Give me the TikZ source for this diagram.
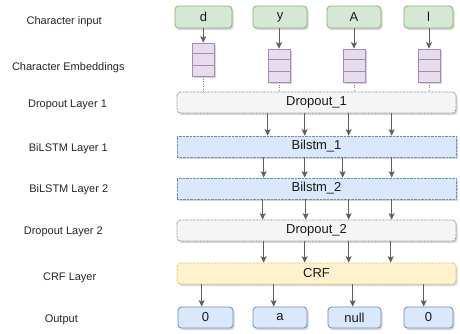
\documentclass[tikz,border=0pt]{standalone}
\usepackage{fontspec}
\setmainfont{Liberation Sans}
\usetikzlibrary{arrows.meta,shadows}
\definecolor{gfill}{HTML}{D5E8D4}\definecolor{gline}{HTML}{82B366}
\definecolor{pfill}{HTML}{E6DCEC}\definecolor{pline}{HTML}{A68BBA}
\definecolor{bfill}{HTML}{DAE8FC}\definecolor{bline}{HTML}{6C8EBF}
\definecolor{yfill}{HTML}{FFF2CC}\definecolor{yline}{HTML}{D6B656}
\definecolor{wfill}{HTML}{F5F5F5}\definecolor{wline}{HTML}{808080}
\definecolor{arrc}{HTML}{606060}
\tikzset{
  shad/.style={drop shadow={shadow xshift=1.5pt,shadow yshift=-2pt,opacity=0.16,fill=black}},
  lbl/.style={inner sep=0pt,font=\fontsize{11}{13}\selectfont,text=black!85},
  boxtxt/.style={font=\fontsize{13}{15}\selectfont,inner sep=0pt,text=black!90},
  inbox/.style={boxtxt,draw=gline,fill=gfill,rounded corners=3.5pt,line width=0.8pt,minimum height=22pt,shad},
  outbox/.style={boxtxt,draw=bline,fill=bfill,rounded corners=3.5pt,line width=0.8pt,minimum height=21pt,shad},
  embbox/.style={draw=pline,fill=pfill,line width=0.7pt,minimum width=22pt,minimum height=33pt,inner sep=0pt,shad},
  embline/.style={draw=pline,line width=0.7pt},
  layer/.style={boxtxt,minimum width=279pt,minimum height=21pt,line width=0.7pt,dash pattern=on 0.7pt off 0.7pt,shad},
  droplayer/.style={layer,draw=wline,fill=wfill,rounded corners=3.5pt},
  lstmlayer/.style={layer,draw=bline,fill=bfill},
  crflayer/.style={layer,draw=yline,fill=yfill,rounded corners=3.5pt},
  arr/.style={draw=arrc,line width=0.8pt,-{Stealth[length=6.5pt,width=6pt,inset=1.5pt]},fill=arrc},
  dotline/.style={draw=arrc!80,line width=0.8pt,dash pattern=on 1pt off 1.5pt}
}
\begin{document}
\begin{tikzpicture}[x=1pt,y=-1pt]
\useasboundingbox (0,0) rectangle (460,333);
% left labels
\node[lbl] (l1) at (64.2,22) {Character input};
\node[lbl] (l2) at (68.3,67.5) {Character Embeddings};
\node[lbl] (l3) at (67.5,104.5) {Dropout Layer 1};
\node[lbl] (l4) at (68.3,148.5) {BiLSTM Layer 1};
\node[lbl] (l5) at (68.7,190) {BiLSTM Layer 2};
\node[lbl] (l6) at (63.3,232) {Dropout Layer 2};
\node[lbl] (l7) at (69.7,277.5) {CRF Layer};
\node[lbl] (l8) at (61.3,319.5) {Output};
% input boxes
\node[inbox,minimum width=57pt] (i1) at (203.5,17) {d};
\node[inbox,minimum width=54pt] (i2) at (280,17) {y};
\node[inbox,minimum width=54pt] (i3) at (354,17) {A};
\node[inbox,minimum width=49pt] (i4) at (428.5,17) {l};
% embeddings
\node[embbox] (e1) at (203.25,59.5) {};
\node[embbox] (e2) at (279,65.5) {};
\node[embbox] (e3) at (354,65.5) {};
\node[embbox] (e4) at (429,65.5) {};
\foreach \e in {e1,e2,e3,e4}{
  \draw[embline] ([yshift=-11pt]\e.north west) -- ([yshift=-11pt]\e.north east);
  \draw[embline] ([yshift=11pt]\e.south west) -- ([yshift=11pt]\e.south east);
}
% layers
\node[droplayer] (d1) at (316.5,102.5) {Dropout\_1};
\node[lstmlayer] (b1) at (316.5,146.5) {Bilstm\_1};
\node[lstmlayer] (b2) at (316.5,188.5) {Bilstm\_2};
\node[droplayer] (d2) at (316.5,230.5) {Dropout\_2};
\node[crflayer] (crf) at (316.5,273.5) {CRF};
% outputs
\node[outbox,minimum width=55pt] (o1) at (205.5,317.5) {0};
\node[outbox,minimum width=54pt] (o2) at (280,317.5) {a};
\node[outbox,minimum width=53pt] (o3) at (354.5,317.5) {null};
\node[outbox,minimum width=49pt] (o4) at (428.5,317.5) {0};
% input -> embedding
\foreach \i/\e in {i1/e1,i2/e2,i3/e3,i4/e4}{
  \draw[arr] (\i.south -| \e.north) -- (\e.north);
  \draw[dotline] (\e.south) -- (\e.south |- d1.north);
}
% layer arrows
\foreach \s in {91,128,172,215}{
  \draw[arr] ([xshift=\s pt]d1.south west) -- ([xshift=\s pt]b1.north west);}
\foreach \s in {87,128,166,215}{
  \draw[arr] ([xshift=\s pt]b1.south west) -- ([xshift=\s pt]b2.north west);}
\foreach \s in {86,129,172,215}{
  \draw[arr] ([xshift=\s pt]b2.south west) -- ([xshift=\s pt]d2.north west);}
\foreach \s in {87,128,172,214}{
  \draw[arr] ([xshift=\s pt]d2.south west) -- ([xshift=\s pt]crf.north west);}
\foreach \s/\o in {25/o1,97/o2,176/o3,247/o4}{
  \draw[arr] ([xshift=\s pt]crf.south west) -- ([xshift=\s pt]crf.south west |- \o.north);}
\end{tikzpicture}
\end{document}
